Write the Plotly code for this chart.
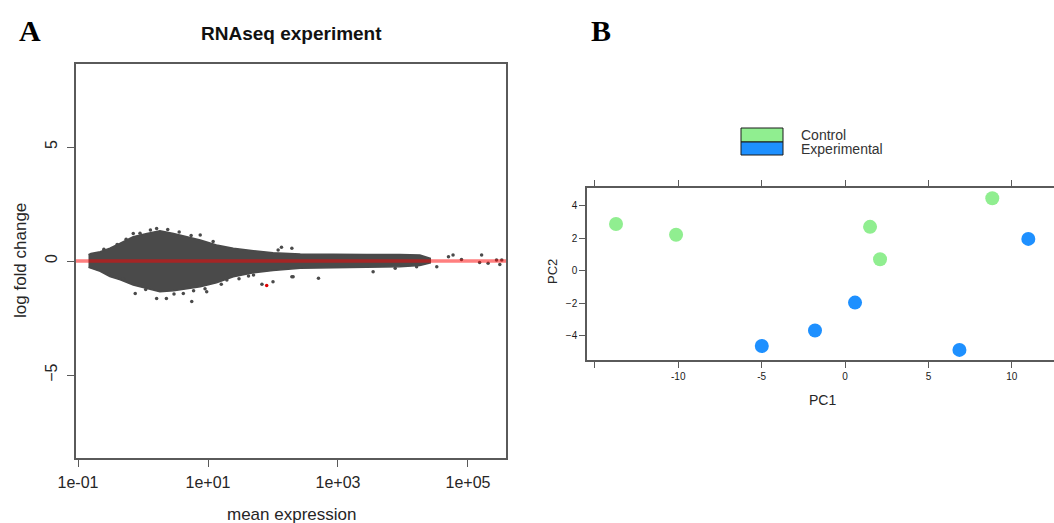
import plotly.graph_objects as go

W, H = 1054, 523

# ---- Panel A: MA plot (mean expression vs log fold change) ----
# outline of the dense gene cloud, sampled along mean expression
cloud_mean = [0.145, 0.158, 0.219, 0.309, 0.447, 0.708, 1.15, 1.82, 2.95, 4.68, 7.59,
              13.5, 24.5, 50.1, 100, 263, 851, 2750, 8910, 18200, 26300]
cloud_upper = [0.28, 0.33, 0.41, 0.56, 0.78, 1.07, 1.21, 1.33, 1.21, 1.07, 0.92,
               0.70, 0.56, 0.45, 0.36, 0.31, 0.28, 0.28, 0.29, 0.26, 0.12]
cloud_lower = [-0.28, -0.30, -0.45, -0.68, -0.82, -1.05, -1.20, -1.35, -1.30, -1.22, -1.13,
               -0.95, -0.69, -0.52, -0.42, -0.32, -0.29, -0.27, -0.25, -0.20, -0.08]

# individual genes scattered outside the dense core
gene_mean = [0.708, 1.62, 7.59, 12.0, 135, 120, 195, 204, 501, 3470, 7590, 16200,
             33100, 50100, 58900, 79400, 162000, 151000, 204000, 275000, 309000, 331000,
             1.62, 2.29, 5.62, 9.55, 0.759, 4.17, 67.6, 100, 50.1, 19.5, 195,
             0.25, 0.40, 0.55, 0.90, 1.30, 2.40, 3.60, 5.50, 0.30, 0.50, 0.80, 1.10,
             3.00, 6.00, 9.00, 16.0, 30.0, 42.0]
gene_lfc = [1.21, 1.43, 1.14, 0.85, 0.60, 0.48, 0.56, -0.69, -0.76, -0.47, -0.32, -0.25,
            -0.25, 0.19, 0.26, 0.07, 0.26, -0.07, -0.10, 0.04, -0.15, 0.04,
            -1.64, -1.64, -1.78, -1.35, -1.42, -1.42, -1.02, -0.91, -0.61, -0.83, -0.69,
            0.52, 0.72, 0.95, 1.22, 1.36, 1.38, 1.27, 1.12, -0.58, -0.78, -1.00, -1.25,
            -1.45, -1.30, -1.22, -1.02, -0.78, -0.66]

# gene called significant
sig_mean = [80]
sig_lfc = [-1.07]

ma_xticks = [0.1, 10, 1000, 100000]
ma_xticklabels = ["1e-01", "1e+01", "1e+03", "1e+05"]
ma_yticks = [-5, 0, 5]

# ---- Panel B: PCA of samples ----
groups = ["Control", "Experimental"]
group_colors = ["#90EE90", "#1E90FF"]
control_pc1 = [-13.73, -10.13, 1.50, 2.10, 8.83]
control_pc2 = [2.89, 2.22, 2.71, 0.72, 4.47]
experimental_pc1 = [10.99, 0.60, -1.80, -4.99, 6.86]
experimental_pc2 = [1.97, -1.95, -3.67, -4.62, -4.86]

pc1_ticks = [-15, -10, -5, 0, 5, 10]
pc1_ticklabels = ["", "-10", "-5", "0", "5", "10"]
pc2_ticks = [-4, -2, 0, 2, 4]


def px(x):
    return x / W


def py(y):
    return 1 - y / H


fig = go.Figure()

cloud_color = "#4a4a4a"
fig.add_trace(go.Scatter(
    x=cloud_mean + cloud_mean[::-1],
    y=cloud_upper + cloud_lower[::-1],
    fill="toself", fillcolor=cloud_color, mode="lines",
    line=dict(color=cloud_color, width=1.5),
    xaxis="x", yaxis="y", showlegend=False, hoverinfo="skip"))
fig.add_trace(go.Scatter(
    x=gene_mean, y=gene_lfc, mode="markers",
    marker=dict(color=cloud_color, size=3.5),
    xaxis="x", yaxis="y", showlegend=False))
fig.add_trace(go.Scatter(
    x=sig_mean, y=sig_lfc, mode="markers",
    marker=dict(color="#e00000", size=3.5),
    xaxis="x", yaxis="y", showlegend=False))

for name, color, xs, ys in [
    (groups[0], group_colors[0], control_pc1, control_pc2),
    (groups[1], group_colors[1], experimental_pc1, experimental_pc2),
]:
    fig.add_trace(go.Scatter(
        x=xs, y=ys, mode="markers", name=name,
        marker=dict(color=color, size=14, line=dict(width=0)),
        xaxis="x2", yaxis="y2", showlegend=False))

axis_gray = "#5a5a5a"
ma_font = dict(family="Liberation Sans, Arial, sans-serif", size=16, color="#262626")
pc_font = dict(family="Liberation Sans, Arial, sans-serif", size=10, color="#1a1a1a")

common = dict(showgrid=False, zeroline=False, automargin=False,
              showline=True, linecolor=axis_gray, linewidth=1.5,
              ticks="outside", tickcolor=axis_gray, tickwidth=1.2)

fig.update_layout(
    width=W, height=H,
    margin=dict(l=0, r=0, t=0, b=0, autoexpand=False),
    paper_bgcolor="white", plot_bgcolor="white",
    showlegend=False,
    xaxis=dict(
        type="log", range=[-1.031, 5.585], domain=[px(76), px(506)], anchor="y",
        mirror=True, ticklen=7, ticklabelstandoff=2,
        tickvals=ma_xticks, ticktext=ma_xticklabels, tickfont=ma_font, **common),
    yaxis=dict(
        range=[-8.64, 8.64], domain=[py(458), py(64)], anchor="x",
        mirror=True, ticklen=7, ticklabelstandoff=4,
        tickvals=ma_yticks, tickangle=-90, tickfont=ma_font, **common),
    xaxis2=dict(
        range=[-15.47, 12.53], domain=[px(587), 1.0], anchor="y2",
        mirror="ticks", ticklen=6,
        tickvals=pc1_ticks, ticktext=pc1_ticklabels, tickfont=pc_font, **common),
    yaxis2=dict(
        range=[-5.48, 5.10], domain=[py(360), py(188)], anchor="x2",
        mirror=False, ticklen=6,
        tickvals=pc2_ticks, tickfont=pc_font, **common),
)

# reference line at zero fold change
fig.add_shape(type="line", xref="x domain", yref="y", x0=0, x1=1, y0=0, y1=0,
              line=dict(color="rgba(255,0,0,0.5)", width=3.5), layer="above")

# legend of the PCA panel
legend_x0, legend_x1 = 741, 783
legend_rows = [(128, 142), (142, 155)]
for (y0, y1), color, label in zip(legend_rows, group_colors, groups):
    fig.add_shape(type="rect", xref="paper", yref="paper",
                  x0=px(legend_x0), x1=px(legend_x1), y0=py(y1), y1=py(y0),
                  fillcolor=color, line=dict(color="#1a1a1a", width=1))
    fig.add_annotation(x=px(799), y=py((y0 + y1) / 2 + 0.5), xref="paper", yref="paper",
                       text=label, showarrow=False, xanchor="left", yanchor="middle",
                       font=dict(family="Liberation Sans, Arial, sans-serif", size=14,
                                 color="#333333"))

sans = "Liberation Sans, Arial, sans-serif"
serif = "Liberation Serif, Times New Roman, serif"
texts = [
    dict(x=30, y=30, text="<b>A</b>", size=30, family=serif, color="black", angle=0),
    dict(x=601, y=30, text="<b>B</b>", size=30, family=serif, color="black", angle=0),
    dict(x=291, y=33, text="<b>RNAseq experiment</b>", size=19, family=sans,
         color="#111111", angle=0),
    dict(x=291, y=514, text="mean expression", size=17, family=sans, color="#262626", angle=0),
    dict(x=20, y=261, text="log fold change", size=17, family=sans, color="#262626", angle=-90),
    dict(x=822, y=400, text="PC1", size=14, family=sans, color="#262626", angle=0),
    dict(x=552, y=272, text="PC2", size=13, family=sans, color="#262626", angle=-90),
]
for t in texts:
    fig.add_annotation(x=px(t["x"]), y=py(t["y"]), xref="paper", yref="paper",
                       text=t["text"], showarrow=False, xanchor="center", yanchor="middle",
                       textangle=t["angle"],
                       font=dict(family=t["family"], size=t["size"], color=t["color"]))

fig.write_html("out.html")
